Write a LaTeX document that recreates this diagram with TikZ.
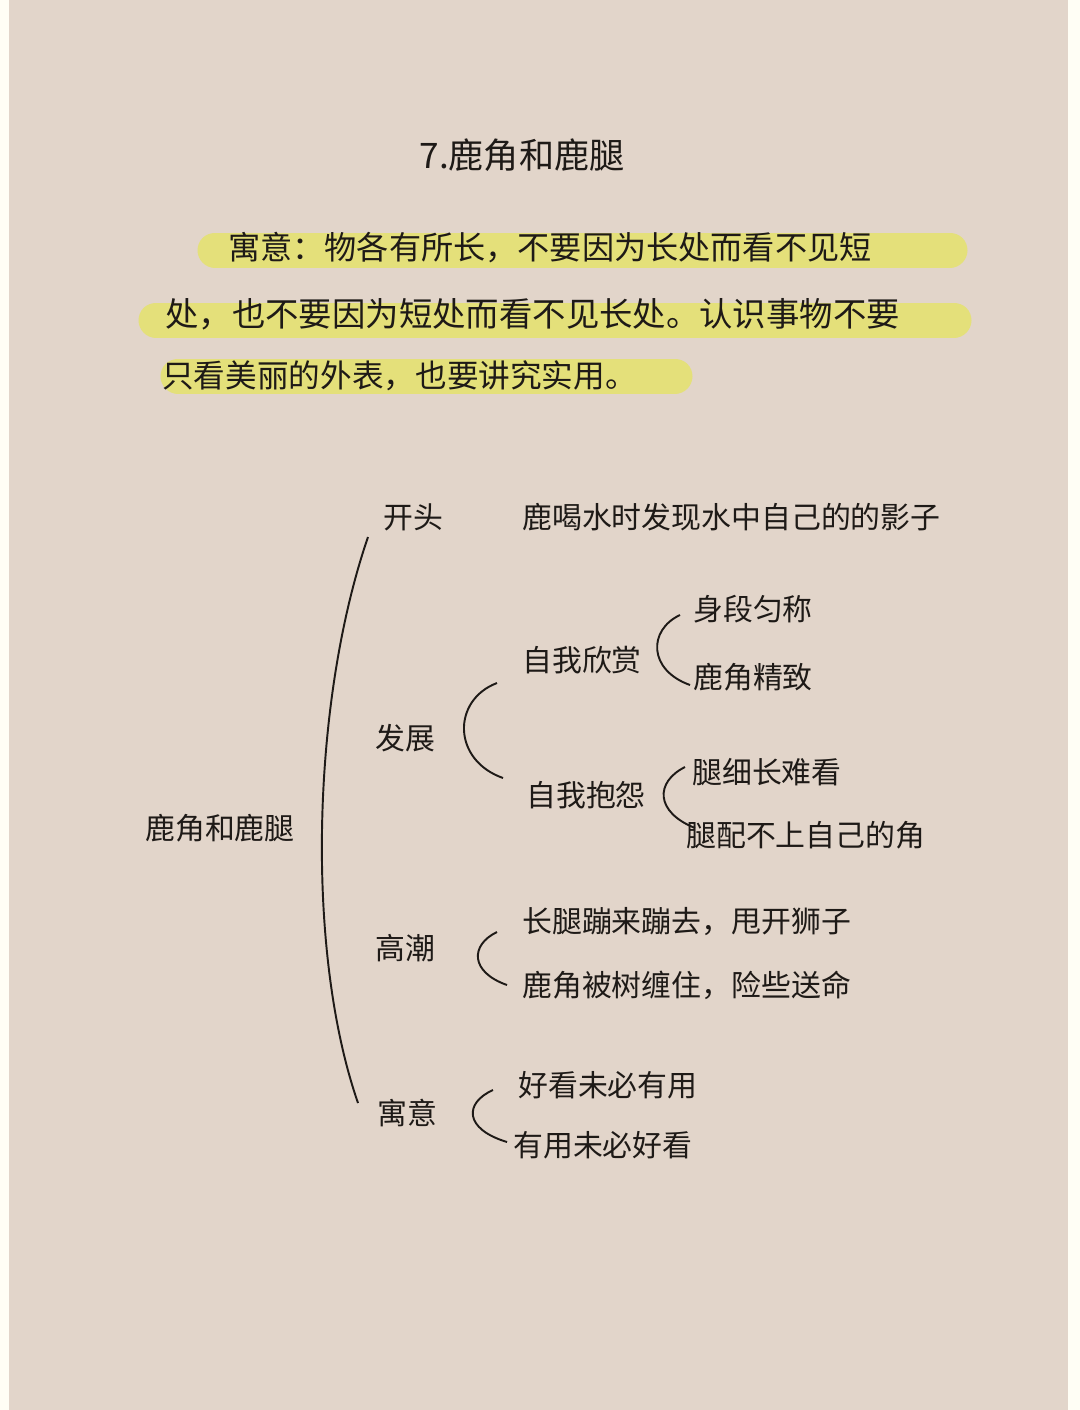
\documentclass[tikz,border=0pt]{standalone}
\usepackage{fontspec}
\usepackage{xcolor}
\usepackage{tikz}
\usetikzlibrary{positioning,calc}
\newfontfamily\cjk{Noto Sans CJK SC}
\definecolor{paper}{HTML}{E2D5CA}
\definecolor{hilite}{HTML}{E4E07A}
\definecolor{ink}{HTML}{1E1A17}

\begin{document}
\begin{tikzpicture}[x=0.2mm,y=-0.2mm,
   lbl/.style={font=\cjk\fontsize{17}{20}\selectfont,text=ink,inner sep=0pt},
   lft/.style={lbl,anchor=west},
   brk/.style={draw=ink,line width=1.1pt},
   bar/.style={draw=hilite,line width=7mm,line cap=round}]
  \useasboundingbox (0,0) rectangle (1080,1410);
  \fill[white!96!yellow] (0,0) rectangle (1080,1410);
  \fill[paper] (9,0) rectangle (1068,1410);
  % title and moral
  \node[lbl,font=\cjk\fontsize{20}{24}\selectfont] (title) at (522,155) {7.鹿角和鹿腿};
  \draw[bar] (215,250) -- (950,250);
  \draw[bar] (156,320) -- (954,320);
  \draw[bar] (178,376) -- (675,376);
  \node[lft,font=\cjk\fontsize{18.3}{22}\selectfont] (m1) at (228,248) {寓意：物各有所长，不要因为长处而看不见短};
  \node[lft,font=\cjk\fontsize{19}{22}\selectfont] (m2) at (165,314) {处，也不要因为短处而看不见长处。认识事物不要};
  \node[lft,font=\cjk\fontsize{18}{22}\selectfont] (m3) at (162,376) {只看美丽的外表，也要讲究实用。};
  % tree
  \node[lbl] (root) at (220,828) {鹿角和鹿腿};
  \node[lbl] (kt) at (413,517) {开头};
  \node[lft] (kt1) at (522,517) {鹿喝水时发现水中自己的的影子};
  \node[lbl] (fz) at (405,738) {发展};
  \node[lbl] (zs) at (582,660) {自我欣赏};
  \node[lft] (zs1) at (693,609) {身段匀称};
  \node[lft] (zs2) at (693,677) {鹿角精致};
  \node[lbl] (zb) at (586,795) {自我抱怨};
  \node[lft] (zb1) at (692,772) {腿细长难看};
  \node[lft] (zb2) at (686,835) {腿配不上自己的角};
  \node[lbl] (gc) at (405,948) {高潮};
  \node[lft] (gc1) at (522,922) {长腿蹦来蹦去，甩开狮子};
  \node[lft] (gc2) at (522,985) {鹿角被树缠住，险些送命};
  \node[lbl] (yy) at (407,1113) {寓意};
  \node[lft] (yy1) at (518,1085) {好看未必有用};
  \node[lft] (yy2) at (513,1145) {有用未必好看};
  % brackets
  \coordinate (rtT) at (368,537); \coordinate (rtB) at (358,1103);
  \coordinate (fzT) at (497,683); \coordinate (fzB) at (503,778);
  \coordinate (zsT) at (680,615); \coordinate (zsB) at (690,685);
  \coordinate (zbT) at (685,767); \coordinate (zbB) at (695,828);
  \coordinate (gcT) at (497,932); \coordinate (gcB) at (507,985);
  \coordinate (yyT) at (493,1090); \coordinate (yyB) at (507,1142);
  \draw[brk] (rtT) .. controls (312,700) and (305,950) .. (rtB);
  \draw[brk] (fzT) .. controls (452,700) and (452,760) .. (fzB);
  \draw[brk] (zsT) .. controls (648,630) and (648,670) .. (zsB);
  \draw[brk] (zbT) .. controls (655,782) and (655,812) .. (zbB);
  \draw[brk] (gcT) .. controls (470,945) and (470,972) .. (gcB);
  \draw[brk] (yyT) .. controls (464,1103) and (464,1129) .. (yyB);
\end{tikzpicture}
\end{document}
